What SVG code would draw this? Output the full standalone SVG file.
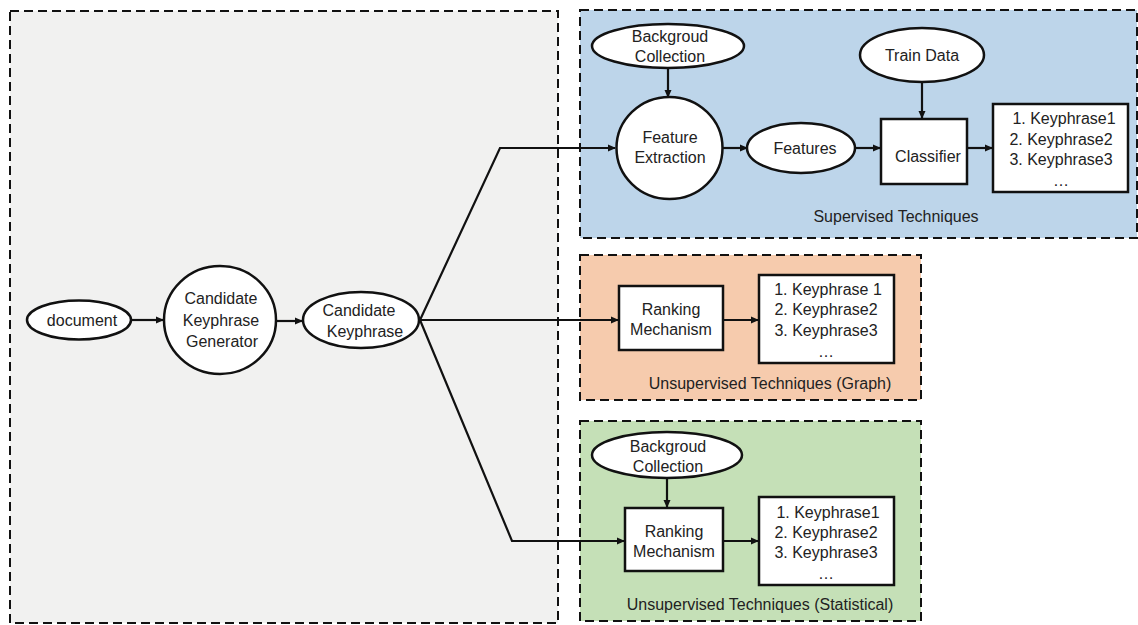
<svg xmlns="http://www.w3.org/2000/svg" width="1138" height="625" viewBox="0 0 1138 625">
<defs>
<marker id="ah" markerWidth="8" markerHeight="8" refX="7" refY="4" orient="auto" markerUnits="userSpaceOnUse">
<path d="M0,0.5 L8,4 L0,7.5 Z" fill="#111"/>
</marker>
<style>
.reg{stroke:#111;stroke-width:2;stroke-dasharray:9 5}
.nd{fill:#fff;stroke:#111;stroke-width:2.5}
.t{font-family:"Liberation Sans",Arial,sans-serif;font-size:16px;fill:#222;text-anchor:middle}
.ca{fill:none;stroke:#111;stroke-width:2.2;marker-end:url(#ah)}
</style>
</defs>
<rect width="1138" height="625" fill="#fff"/>
<g id="regions">
<rect id="region-gray" class="reg" x="10" y="11" width="548" height="612" fill="#f1f1f0"/>
<rect id="region-supervised" class="reg" x="580" y="10" width="557" height="228" fill="#bdd5ea"/>
<rect id="region-graph" class="reg" x="580" y="255" width="341" height="145" fill="#f6cbad"/>
<rect id="region-stat" class="reg" x="580" y="421" width="341" height="200" fill="#c5e0b7"/>
<text class="t" x="896" y="222">Supervised Techniques</text>
<text class="t" x="770" y="389">Unsupervised Techniques (Graph)</text>
<text class="t" x="760" y="610">Unsupervised Techniques (Statistical)</text>
</g>
<g id="connectors">
<line class="ca" x1="131" y1="320" x2="163" y2="320"/>
<line class="ca" x1="276" y1="321" x2="302" y2="321"/>
<polyline class="ca" points="420,320 500,148 615,148"/>
<line class="ca" x1="420" y1="320" x2="618" y2="320"/>
<polyline class="ca" points="420,320 512,541 624,541"/>
<line class="ca" x1="668" y1="69" x2="668" y2="97"/>
<line class="ca" x1="723" y1="148" x2="747" y2="148"/>
<line class="ca" x1="855" y1="148" x2="880" y2="148"/>
<line class="ca" x1="922" y1="82" x2="922" y2="118"/>
<line class="ca" x1="968" y1="148" x2="992" y2="148"/>
<line class="ca" x1="723" y1="320" x2="758" y2="320"/>
<line class="ca" x1="667" y1="478" x2="667" y2="507"/>
<line class="ca" x1="724" y1="541" x2="758" y2="541"/>
</g>
<g id="document">
<ellipse class="nd" cx="79" cy="320" rx="52" ry="19.5"/>
<text class="t" x="82" y="326">document</text>
</g>
<g id="candidate-generator">
<ellipse class="nd" cx="220" cy="320" rx="56" ry="54"/>
<text class="t" x="221" y="304">Candidate</text>
<text class="t" x="221" y="326">Keyphrase</text>
<text class="t" x="222" y="347">Generator</text>
</g>
<g id="candidate-keyphrase">
<ellipse class="nd" cx="361" cy="320" rx="58" ry="28"/>
<text class="t" x="359" y="316">Candidate</text>
<text class="t" x="365" y="337">Keyphrase</text>
</g>
<g id="bg-collection-1">
<ellipse class="nd" cx="668" cy="46" rx="76" ry="22"/>
<text class="t" x="670" y="42">Backgroud</text>
<text class="t" x="670" y="62">Collection</text>
</g>
<g id="feature-extraction">
<ellipse class="nd" cx="669.5" cy="148" rx="53" ry="51"/>
<text class="t" x="670" y="143">Feature</text>
<text class="t" x="670" y="163">Extraction</text>
</g>
<g id="features">
<ellipse class="nd" cx="801" cy="148" rx="54" ry="25"/>
<text class="t" x="805" y="154">Features</text>
</g>
<g id="train-data">
<ellipse class="nd" cx="922" cy="55" rx="62" ry="27"/>
<text class="t" x="922" y="61">Train Data</text>
</g>
<g id="classifier">
<rect class="nd" x="881" y="119" width="86" height="65"/>
<text class="t" x="928" y="162">Classifier</text>
</g>
<g id="supervised-list">
<rect class="nd" x="993" y="104" width="135" height="88"/>
<text class="t" x="1064" y="124">1. Keyphrase1</text>
<text class="t" x="1061" y="145">2. Keyphrase2</text>
<text class="t" x="1061" y="165">3. Keyphrase3</text>
<text class="t" x="1061" y="186">…</text>
</g>
<g id="ranking-graph">
<rect class="nd" x="619" y="286" width="104" height="64"/>
<text class="t" x="671" y="315">Ranking</text>
<text class="t" x="671" y="335">Mechanism</text>
</g>
<g id="graph-list">
<rect class="nd" x="759" y="275" width="135" height="88"/>
<text class="t" x="828" y="295">1. Keyphrase 1</text>
<text class="t" x="826" y="315">2. Keyphrase2</text>
<text class="t" x="826" y="336">3. Keyphrase3</text>
<text class="t" x="826" y="357">…</text>
</g>
<g id="bg-collection-2">
<ellipse class="nd" cx="667" cy="455" rx="75" ry="23"/>
<text class="t" x="668" y="452">Backgroud</text>
<text class="t" x="668" y="472">Collection</text>
</g>
<g id="ranking-stat">
<rect class="nd" x="625" y="508" width="98" height="63"/>
<text class="t" x="674" y="537">Ranking</text>
<text class="t" x="674" y="557">Mechanism</text>
</g>
<g id="stat-list">
<rect class="nd" x="759" y="497" width="135" height="88"/>
<text class="t" x="828" y="518">1.  Keyphrase1</text>
<text class="t" x="826" y="538">2. Keyphrase2</text>
<text class="t" x="826" y="558">3. Keyphrase3</text>
<text class="t" x="826" y="579">…</text>
</g>
</svg>
